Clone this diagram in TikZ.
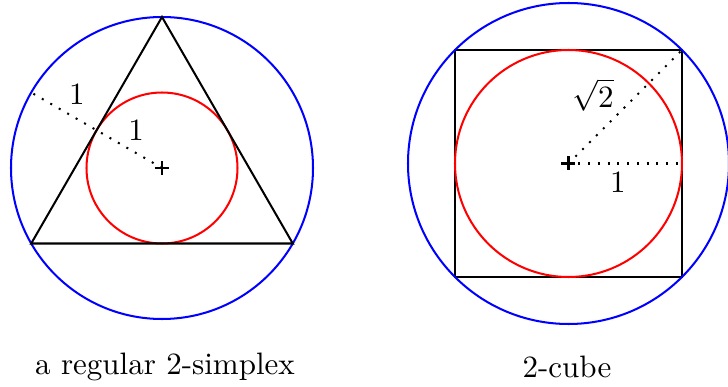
\documentclass[tikz,border=0pt]{standalone}
\usetikzlibrary{calc}
\begin{document}
\begin{tikzpicture}[x=0.3226pt,y=-0.3226pt,
  edge/.style={line width=0.65pt},
  dotline/.style={line width=0.65pt, dash pattern=on 0.65pt off 2.5pt},
  lbl/.style={inner sep=0pt},
  pm/.style={line width=0.8pt}]
\useasboundingbox (0,0) rectangle (728,387);
% left: simplex
\coordinate (cL) at (162,168);
\coordinate (tA) at (162,17);
\coordinate (tB) at (31.2,243.5);
\coordinate (tC) at (292.8,243.5);
\draw[edge,blue] (cL) circle[radius=151];
\draw[edge,red] (cL) circle[radius=75.5];
\draw[edge] (tA) -- (tB) -- (tC) -- cycle;
\coordinate (eL) at ($(cL)+(210:151)$);
\draw[dotline] (cL) -- (eL);
\draw[pm] ($(cL)+(-7,0)$) -- ($(cL)+(7,0)$) ($(cL)+(0,-7)$) -- ($(cL)+(0,7)$);
\node[lbl] (l1) at (77,94) {1};
\node[lbl] (l2) at (136,130) {1};
\node[lbl] (capL) at (165,367) {a regular 2-simplex};
% right: cube
\coordinate (cR) at (568.5,163.5);
\node[draw,edge,minimum width=227*0.3226pt,minimum height=227*0.3226pt,inner sep=0pt,outer sep=0pt] (sq) at (cR) {};
\draw[edge,blue] (cR) circle[radius=160.5];
\draw[edge,red] (cR) circle[radius=113.5];
\draw[dotline] (cR) -- (sq.east);
\draw[dotline] (cR) -- (sq.north east);
\draw[pm] ($(cR)+(-7,0)$) -- ($(cR)+(7,0)$) ($(cR)+(0,-7)$) -- ($(cR)+(0,7)$);
\node[lbl] (l3) at (593,95) {$\sqrt{2}$};
\node[lbl] (l4) at (618,182) {1};
\node[lbl] (capR) at (567,367) {2-cube};
\end{tikzpicture}
\end{document}
